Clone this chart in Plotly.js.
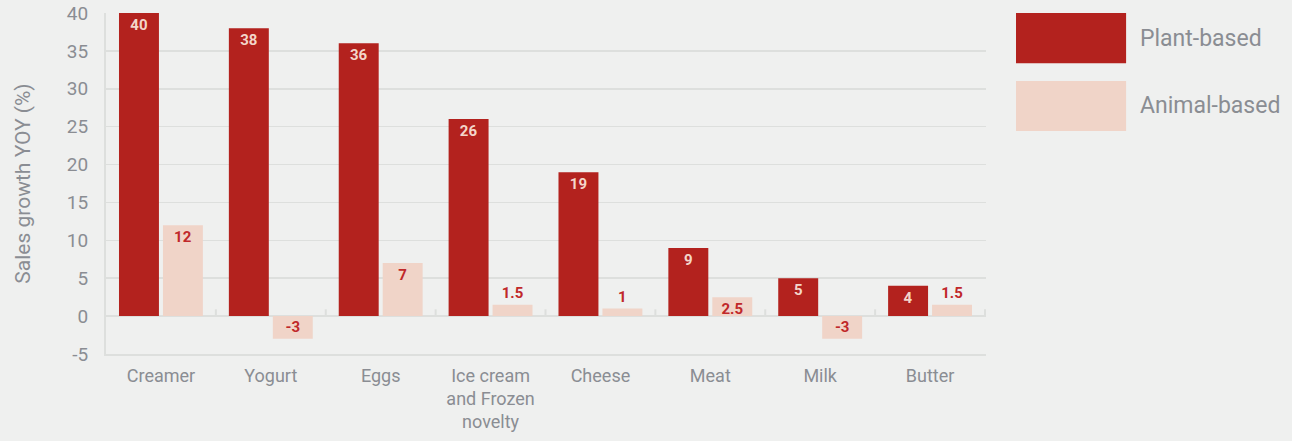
<!DOCTYPE html>
<html><head><meta charset="utf-8">
<script src="https://cdn.plot.ly/plotly-3.0.1.min.js"></script>
<style>html,body{margin:0;padding:0;background:#eff0ef;}#chart{width:1292px;height:441px;}</style>
</head><body><div id="chart"></div>
<script>
const categories = ["Creamer", "Yogurt", "Eggs", "Ice cream<br>and Frozen<br>novelty", "Cheese", "Meat", "Milk", "Butter"];
const plantBased = [40, 38, 36, 26, 19, 9, 5, 4];
const animalBased = [12, -3, 7, 1.5, 1, 2.5, -3, 1.5];
const yTicks = [-5, 0, 5, 10, 15, 20, 25, 30, 35, 40];
const seriesNames = ["Plant-based", "Animal-based"];

const plantColor = "#b3221e", animalColor = "#f0d4c8";
const grey = "#8a8d93", gridC = "#dddfdd";
const fontFam = "Roboto, 'DejaVu Sans', sans-serif";

function fmt(v){ return String(v); }
// text inside if it fits in the bar, else above it
const animalPos = animalBased.map(v => Math.abs(v) >= 2 ? "inside" : "outside");

const traces = [
  {type:"bar", x:categories, y:plantBased, name:seriesNames[0], marker:{color:plantColor},
   text:plantBased.map(fmt), textposition:"inside", insidetextanchor:"end", constraintext:"none", textangle:0,
   textfont:{family:fontFam, size:15, color:"#f3d6ca", weight:"bold"}, cliponaxis:false, hoverinfo:"x+y"},
  {type:"bar", x:categories, y:animalBased, name:seriesNames[1], marker:{color:animalColor},
   text:animalBased.map(fmt), textposition:animalPos, insidetextanchor:"end", constraintext:"none", textangle:0,
   textfont:{family:fontFam, size:15, color:"#c0282a", weight:"bold"}, cliponaxis:false, hoverinfo:"x+y"}
];

const shapes = [];
// small tick marks on the zero line between categories
for (let i = 0; i < categories.length; i++) {
  shapes.push({type:"line", xref:"x", yref:"y", x0:i+0.5, x1:i+0.5, y0:0, y1:0.9,
    line:{color:gridC, width:2}, layer:"below"});
}
// legend swatches
const legY = [[1.0, 0.853], [0.8006, 0.654]];
const legColors = [plantColor, animalColor];
legY.forEach((yy, k) => {
  shapes.push({type:"rect", xref:"paper", yref:"paper", x0:1.0341, x1:1.1592, y0:yy[1], y1:yy[0],
    fillcolor:legColors[k], line:{width:0}});
});
const annotations = seriesNames.map((n, k) => ({
  xref:"paper", yref:"paper", x:1.1730, y:(legY[k][0]+legY[k][1])/2, xanchor:"left", yanchor:"middle",
  text:n, showarrow:false, font:{family:fontFam, size:23, color:grey}
}));

const layout = {
  width:1292, height:441,
  paper_bgcolor:"#eff0ef", plot_bgcolor:"#eff0ef",
  margin:{l:106, r:306, t:13, b:87},
  barmode:"group", bargap:0.2, bargroupgap:0.091,
  showlegend:false,
  font:{family:fontFam, color:grey},
  xaxis:{type:"category", tickfont:{size:18, color:grey}, showline:true, linecolor:gridC, linewidth:2,
    ticks:"", showgrid:false, fixedrange:true, ticklabelstandoff:4},
  yaxis:{range:[-5, 40], tickvals:yTicks, ticktext:yTicks.map(String), tickfont:{size:19, color:grey},
    showgrid:true, gridcolor:gridC, gridwidth:1.5, zeroline:true, zerolinecolor:gridC, zerolinewidth:2,
    showline:true, linecolor:gridC, linewidth:2, ticks:"", ticklabelstandoff:12,
    title:{text:"Sales growth YOY (%)", font:{size:21, color:grey}, standoff:30}},
  shapes:shapes, annotations:annotations
};
Plotly.newPlot("chart", traces, layout, {displayModeBar:false, staticPlot:true});
</script></body></html>
